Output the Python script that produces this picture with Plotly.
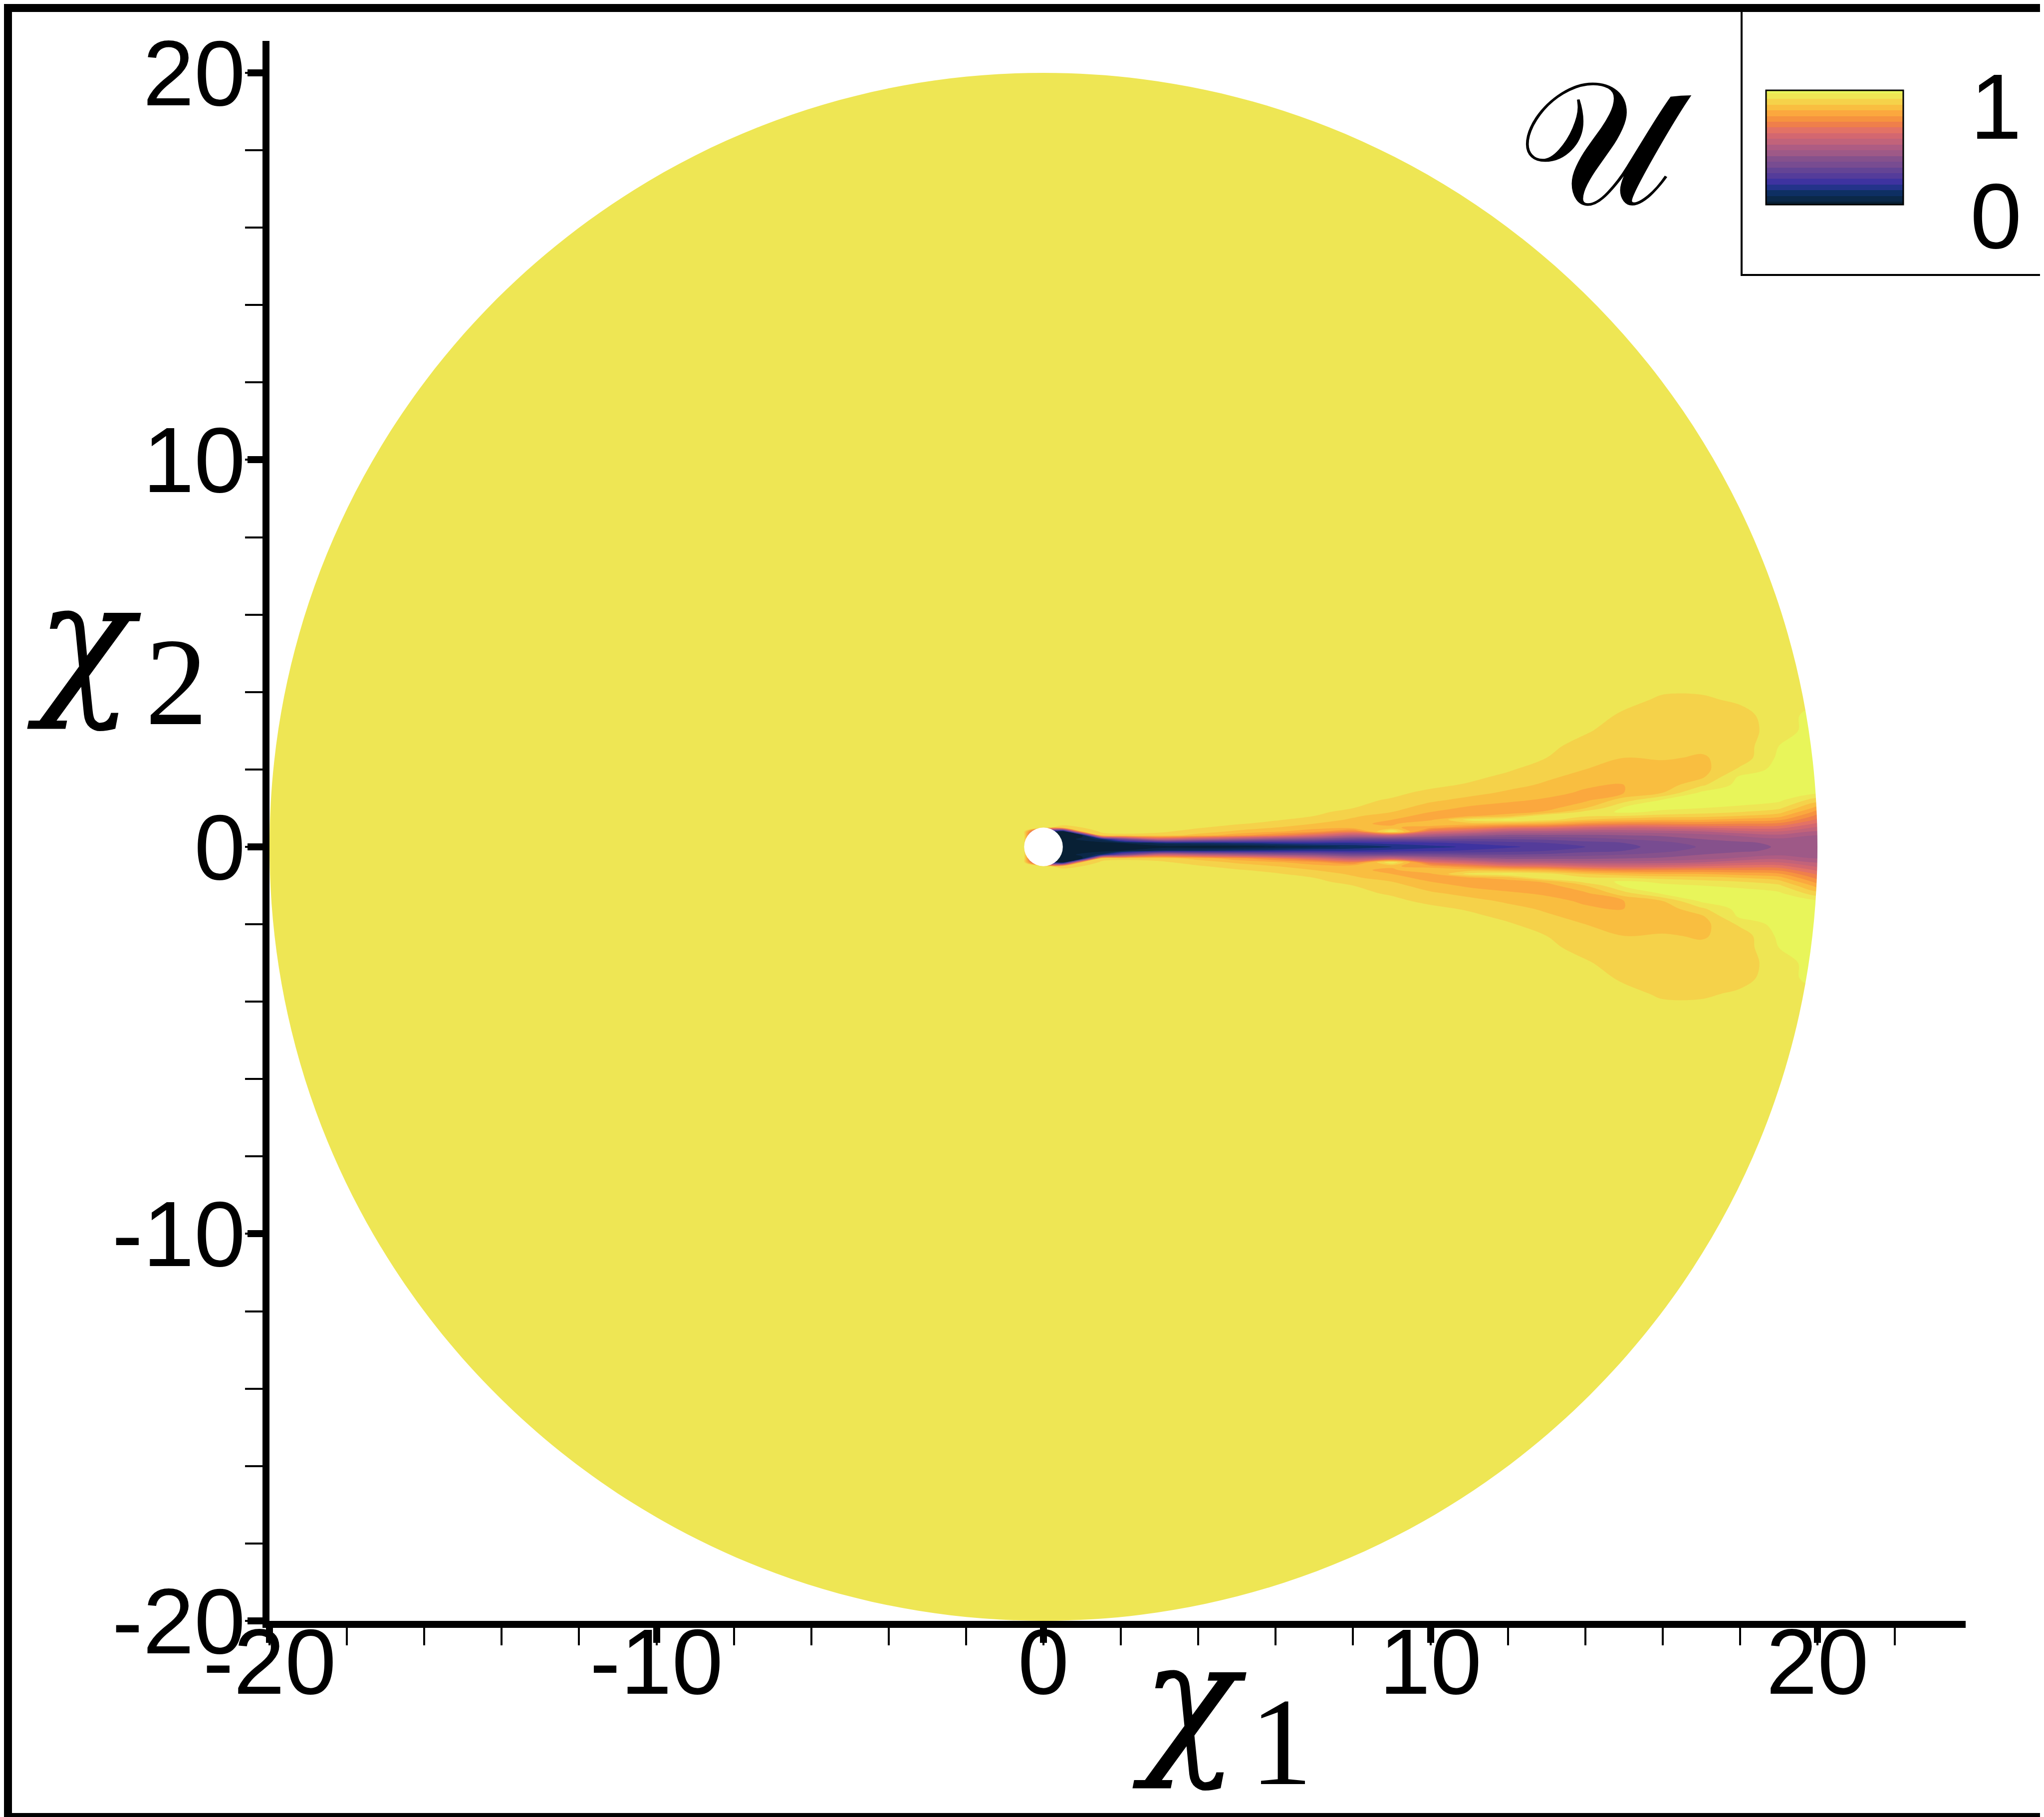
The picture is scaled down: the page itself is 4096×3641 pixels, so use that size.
import plotly.graph_objects as go

# --- data: U(chi1, chi2), upper half (chi2 >= 0), free stream far away ---
chi1_st = [-21, -0.5, 0, 0.5, 1, 1.5, 2, 3, 4, 5, 6, 7, 8, 9, 10, 11, 12, 13, 14, 15, 16, 17, 18, 19, 20, 24]
chi2_st = [0, 0.1, 0.2, 0.3, 0.4, 0.5, 0.6, 0.7, 0.8, 0.9, 1.0, 1.2, 1.4, 1.6, 1.8, 2.0, 2.3, 2.6, 3.0, 3.4, 3.8, 4.2, 5.0, 21]

u_far = [.965, .965, .965, .965, .965, .965, .965, .965, .965, .965, .965, .965, .965, .965, .965, .965, .965, .965, .965, .965, .965, .965, .965, .965]
u_00 = [.02, .02, .02, .02, .30, .965, .965, .965, .965, .965, .965, .965, .965, .965, .965, .965, .965, .965, .965, .965, .965, .965, .965, .965]
u_05 = [.02, .02, .03, .03, .04, .93, .965, .965, .965, .965, .965, .965, .965, .965, .965, .965, .965, .965, .965, .965, .965, .965, .965, .965]
u_10 = [.02, .03, .06, .04, .90, .95, .965, .965, .965, .965, .965, .965, .965, .965, .965, .965, .965, .965, .965, .965, .965, .965, .965, .965]
u_15 = [.02, .03, .12, .93, .96, .965, .965, .965, .965, .965, .965, .965, .965, .965, .965, .965, .965, .965, .965, .965, .965, .965, .965, .965]
u_20 = [.02, .05, .35, .94, .965, .965, .965, .965, .965, .965, .965, .965, .965, .965, .965, .965, .965, .965, .965, .965, .965, .965, .965, .965]
u_30 = [.02, .12, .60, .93, .96, .965, .965, .965, .965, .965, .965, .965, .965, .965, .965, .965, .965, .965, .965, .965, .965, .965, .965, .965]
u_40 = [.02, .14, .55, .88, .93, .955, .965, .965, .965, .965, .965, .965, .965, .965, .965, .965, .965, .965, .965, .965, .965, .965, .965, .965]
u_50 = [.03, .16, .50, .82, .89, .93, .955, .965, .965, .965, .965, .965, .965, .965, .965, .965, .965, .965, .965, .965, .965, .965, .965, .965]
u_60 = [.05, .18, .45, .75, .86, .90, .935, .955, .965, .965, .965, .965, .965, .965, .965, .965, .965, .965, .965, .965, .965, .965, .965, .965]
u_70 = [.08, .20, .42, .66, .82, .87, .90, .93, .95, .96, .965, .965, .965, .965, .965, .965, .965, .965, .965, .965, .965, .965, .965, .965]
u_80 = [.11, .20, .36, .56, .74, .88, .86, .89, .91, .935, .95, .96, .965, .965, .965, .965, .965, .965, .965, .965, .965, .965, .965, .965]
u_90 = [.15, .22, .36, .60, 1.0, .86, .84, .85, .87, .90, .92, .945, .96, .965, .965, .965, .965, .965, .965, .965, .965, .965, .965, .965]
u_100 = [.18, .24, .36, .52, .68, .82, .90, .84, .83, .85, .87, .91, .94, .96, .965, .965, .965, .965, .965, .965, .965, .965, .965, .965]
u_110 = [.21, .26, .35, .47, .62, .76, .88, .97, .84, .82, .84, .88, .92, .945, .96, .965, .965, .965, .965, .965, .965, .965, .965, .965]
u_120 = [.24, .28, .35, .44, .55, .70, .86, 1.01, .88, .82, .82, .86, .89, .92, .94, .955, .965, .965, .965, .965, .965, .965, .965, .965]
u_130 = [.27, .30, .36, .44, .54, .68, .84, .97, 1.0, .86, .83, .84, .87, .89, .91, .93, .95, .96, .965, .965, .965, .965, .965, .965]
u_140 = [.30, .33, .38, .44, .52, .64, .78, .90, .96, .97, .90, .84, .84, .86, .88, .90, .92, .935, .955, .965, .965, .965, .965, .965]
u_150 = [.335, .35, .40, .45, .52, .62, .75, .87, .95, 1.01, 1.01, .93, .85, .85, .86, .88, .90, .91, .93, .945, .96, .965, .965, .965]
u_160 = [.37, .385, .42, .46, .53, .63, .75, .85, .93, .99, 1.01, 1.01, .90, .87, .87, .88, .905, .92, .93, .935, .945, .96, .965, .965]
u_170 = [.405, .42, .45, .48, .55, .65, .76, .85, .92, .97, 1.0, 1.02, 1.01, .94, .89, .88, .895, .91, .925, .93, .945, .96, .965, .965]
u_180 = [.43, .44, .47, .51, .59, .67, .75, .83, .90, .95, .99, 1.02, 1.02, 1.02, 1.01, .96, .92, .92, .93, .94, .955, .965, .965, .965]
u_190 = [.455, .46, .49, .54, .60, .67, .74, .81, .87, .92, .96, 1.01, 1.02, 1.02, 1.02, 1.02, 1.01, 1.0, .97, .965, .965, .965, .965, .965]
u_200 = [.47, .475, .485, .50, .545, .59, .64, .69, .735, .78, .83, .92, 1.01, 1.02, 1.02, 1.02, 1.03, 1.03, 1.03, 1.03, .98, .965, .965, .965]

# the last station (beyond the domain edge) just repeats chi1 = 20
profiles = [u_far, u_far, u_00, u_05, u_10, u_15, u_20, u_30, u_40, u_50, u_60, u_70, u_80, u_90,
            u_100, u_110, u_120, u_130, u_140, u_150, u_160, u_170, u_180, u_190, u_200, u_200]

# band colours of the legend, from U < 0.05 up to U >= 1
band_colors = ["#082035", "#0B2849", "#0E2F63", "#23338A", "#3E33A0", "#543C9A", "#644495",
               "#784C91", "#86518C", "#9E5987", "#AE5C83", "#C2637A", "#D36770", "#E37265",
               "#EF7F4B", "#F6933F", "#FBA83E", "#F9BE40", "#F5D24A", "#EEE654", "#E8F55A"]

# mirror the upper half to get the full (symmetric) field
chi2_full = [-v for v in chi2_st[:0:-1]] + chi2_st
z = [[p[:0:-1][j] if j < len(p) - 1 else p[j - len(p) + 1] for p in profiles]
     for j in range(2 * len(chi2_st) - 1)]

scale = [[k / 20, c] for k, c in enumerate(band_colors)]

# pixel layout of the page
FW, FH = 4096, 3641
L, B = 532, 3240
PXU = 77.55                      # pixels per unit
W = FW - 165 - L
H = B - 74
def px(p): return (p - L) / W
def py(p): return (B - p) / H

fig = go.Figure()

fig.add_trace(go.Contour(
    x=chi1_st, y=chi2_full, z=z,
    autocontour=False,
    contours=dict(start=0.05, end=1.0, size=0.05, coloring="fill", showlines=False),
    colorscale=scale,
    line=dict(width=0, smoothing=1),
    showscale=True,
    colorbar=dict(thickness=275, thicknessmode="pixels", len=229, lenmode="pixels",
                  x=px(3531), xanchor="left", y=py(173), yanchor="top",
                  xpad=0, ypad=0, outlinewidth=3, outlinecolor="black",
                  showticklabels=False, ticks="", borderwidth=0),
    hoverinfo="skip",
))

# white mask outside the r = 20 domain (rectangle with a circular hole, even-odd fill)
k = 0.5522847 * 20
mask = ("M -22,-22 H 26 V 23 H -22 Z "
        f"M 20,0 C 20,{k} {k},20 0,20 C {-k},20 -20,{k} -20,0 "
        f"C -20,{-k} {-k},-20 0,-20 C {k},-20 20,{-k} 20,0 Z")

shapes = [
    dict(type="path", xref="x", yref="y", path=mask, fillcolor="white",
         fillrule="evenodd", line=dict(width=0), layer="above"),
    dict(type="circle", xref="x", yref="y", x0=-0.5, x1=0.5, y0=-0.5, y1=0.5,
         fillcolor="white", line=dict(width=0), layer="above"),
    # legend box
    dict(type="rect", xref="paper", yref="paper", x0=px(3482), x1=px(4200), y0=py(543), y1=py(-50),
         line=dict(color="black", width=4), fillcolor="rgba(0,0,0,0)"),
    # outer frame
    dict(type="rect", xref="paper", yref="paper", x0=px(0), x1=px(FW), y0=py(FH), y1=py(0),
         line=dict(color="black", width=32), fillcolor="rgba(0,0,0,0)"),
]

sans = "Liberation Sans, Arial, sans-serif"
serif = "DejaVu Serif, Liberation Serif, serif"
digits = "Liberation Serif, Times New Roman, serif"
annotations = [
    dict(text="1", x=px(3938), y=py(205), xanchor="left", yanchor="middle",
         font=dict(family=sans, size=186, color="black")),
    dict(text="0", x=px(3938), y=py(425), xanchor="left", yanchor="middle",
         font=dict(family=sans, size=186, color="black")),
    dict(text="\U0001D4B0", x=px(3209), y=py(280), xanchor="center", yanchor="middle",
         font=dict(family=serif, size=350, color="black")),
    dict(text="<i>χ</i>", x=px(160), y=py(1275), xanchor="center", yanchor="middle",
         font=dict(family=serif, size=320, color="black")),
    dict(text="2", x=px(345), y=py(1359), xanchor="center", yanchor="middle",
         font=dict(family=digits, size=250, color="black")),
    dict(text="<i>χ</i>", x=px(2375), y=py(3398), xanchor="center", yanchor="middle",
         font=dict(family=serif, size=320, color="black")),
    dict(text="1", x=px(2559), y=py(3482), xanchor="center", yanchor="middle",
         font=dict(family=digits, size=250, color="black")),
]
for a in annotations:
    a.update(xref="paper", yref="paper", showarrow=False)

major = [-20, -10, 0, 10, 20]
labels = ["-20", "-10", "0", "10", "20"]
axis_common = dict(
    showline=True, linewidth=14, linecolor="black",
    ticks="outside", ticklen=30, tickwidth=14, tickcolor="black",
    tickvals=major, ticktext=labels,
    tickfont=dict(family=sans, size=185, color="black"),
    showgrid=False, zeroline=False,
    minor=dict(dtick=2, tick0=0, ticks="outside", ticklen=35, tickwidth=3.5,
               tickcolor="black", showgrid=False),
)

fig.update_layout(
    width=FW, height=FH,
    margin=dict(l=L, r=FW - L - W, t=74, b=FH - B, pad=0),
    paper_bgcolor="white", plot_bgcolor="white",
    showlegend=False,
    xaxis=dict(range=[-20.001, -20 + W / PXU], ticklabelstandoff=-120, **axis_common),
    yaxis=dict(range=[-20.001, -20 + H / PXU], ticklabelstandoff=-33, **axis_common),
    shapes=shapes, annotations=annotations,
)

fig.write_html("out.html")
